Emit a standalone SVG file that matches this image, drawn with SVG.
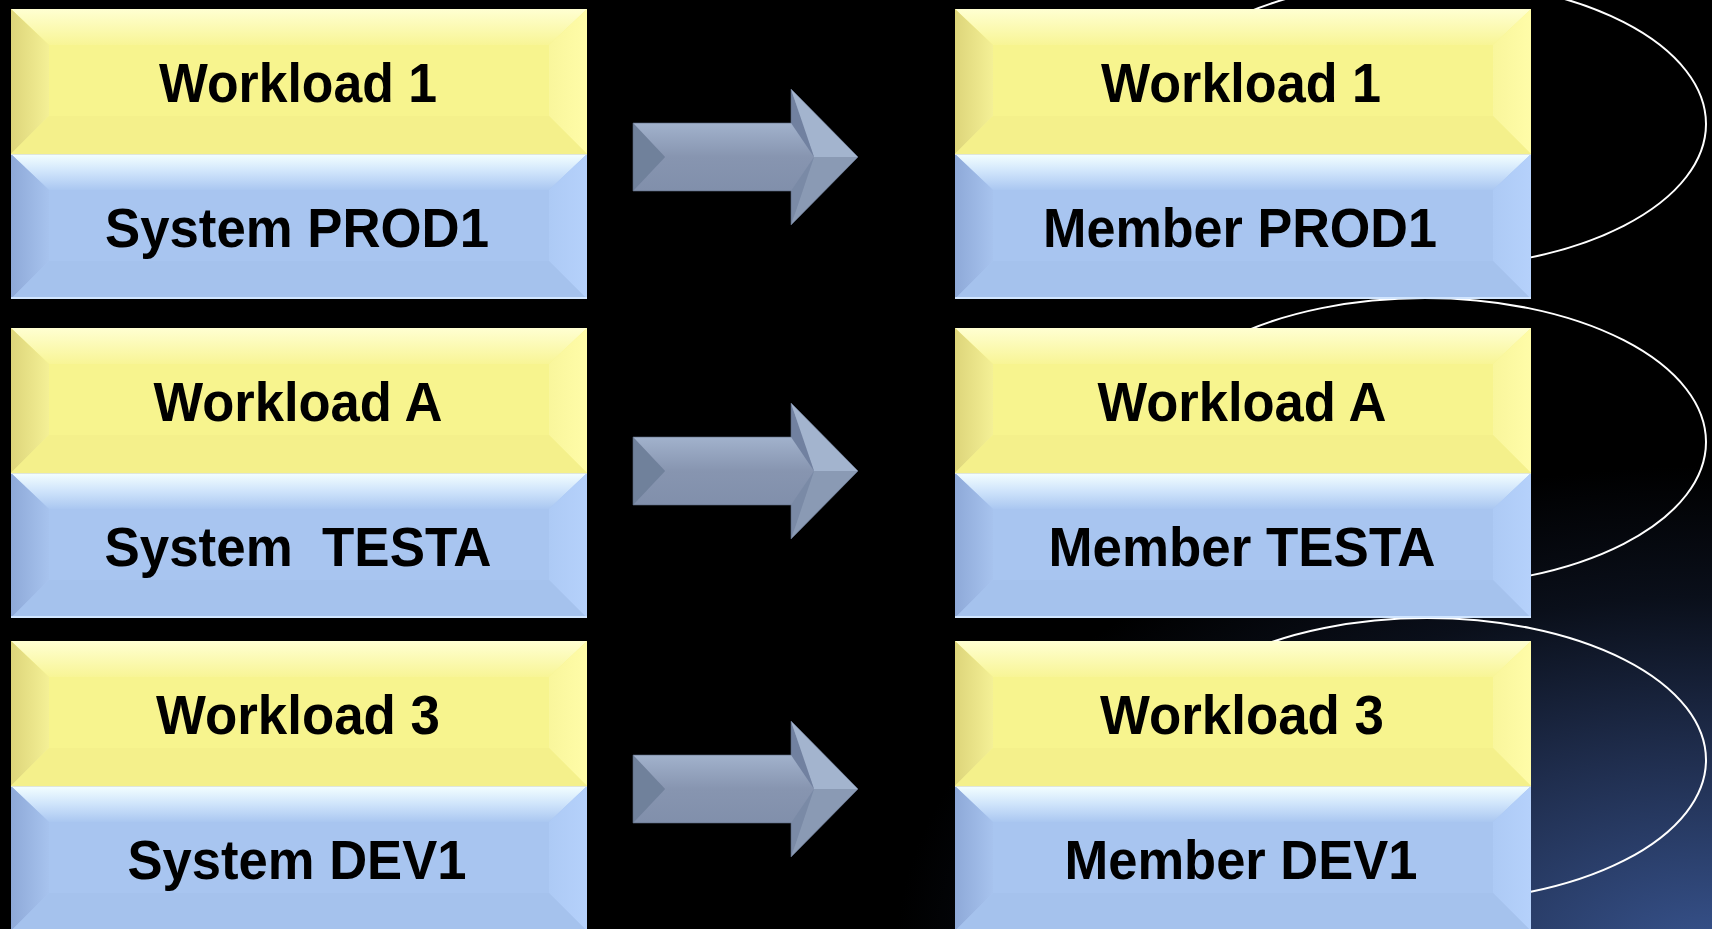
<svg xmlns="http://www.w3.org/2000/svg" xmlns:xlink="http://www.w3.org/1999/xlink" width="1712" height="929" viewBox="0 0 1712 929">
<style>
.lbl{font-family:"Liberation Sans",Arial,Helvetica,sans-serif;font-weight:bold;font-size:56px;fill:#000;text-anchor:middle;white-space:pre}
.ring{fill:none;stroke:#ffffff;stroke-width:2}
</style>
<defs>
<radialGradient id="bg" gradientUnits="userSpaceOnUse" cx="0" cy="0" r="1" gradientTransform="translate(1712 960) scale(860 520)">
<stop offset="0" stop-color="#38548f"/>
<stop offset="0.4" stop-color="#1f2d4d"/>
<stop offset="0.7" stop-color="#0a0f1a"/>
<stop offset="0.95" stop-color="#000"/>
</radialGradient>
<linearGradient id="yTop" x1="0" y1="0" x2="0" y2="1"><stop offset="0" stop-color="#ffffd2"/><stop offset="1" stop-color="#f8f596"/></linearGradient>
<linearGradient id="yLeft" x1="0" y1="0" x2="1" y2="0"><stop offset="0" stop-color="#ddd57a"/><stop offset="1" stop-color="#f4f096"/></linearGradient>
<linearGradient id="yRight" x1="0" y1="0" x2="1" y2="0"><stop offset="0" stop-color="#f9f69c"/><stop offset="1" stop-color="#fffca8"/></linearGradient>
<linearGradient id="bTop" x1="0" y1="0" x2="0" y2="1"><stop offset="0" stop-color="#f4ffff"/><stop offset="0.5" stop-color="#cfe4fb"/><stop offset="1" stop-color="#aac7f1"/></linearGradient>
<linearGradient id="bLeft" x1="0" y1="0" x2="1" y2="0"><stop offset="0" stop-color="#8ea9d8"/><stop offset="1" stop-color="#a7c3ee"/></linearGradient>
<linearGradient id="bRight" x1="0" y1="0" x2="1" y2="0"><stop offset="0" stop-color="#adcaf5"/><stop offset="1" stop-color="#b5d1fb"/></linearGradient>
<linearGradient id="aShaft" x1="0" y1="0" x2="0" y2="1">
<stop offset="0" stop-color="#cddcf4"/><stop offset="0.18" stop-color="#a9bad4"/><stop offset="0.5" stop-color="#8795b0"/><stop offset="0.9" stop-color="#7d8ca8"/><stop offset="1" stop-color="#9aa9c2"/>
</linearGradient>
<symbol id="yh" viewBox="0 0 576 145" width="576" height="145" overflow="visible">
<rect x="0" y="0" width="576" height="145" fill="#f7f48e"/>
<polygon points="0,0 576,0 538,36 38,36" fill="url(#yTop)"/>
<polygon points="0,0 38,36 38,107 0,145" fill="url(#yLeft)"/>
<polygon points="576,0 576,145 538,107 538,36" fill="url(#yRight)"/>
<polygon points="0,145 38,107 538,107 576,145" fill="#f4f08b"/>
</symbol>
<symbol id="bh" viewBox="0 0 576 145" width="576" height="145" overflow="visible">
<rect x="0" y="0" width="576" height="145" fill="#a8c5f0"/>
<polygon points="0,0 576,0 538,36 38,36" fill="url(#bTop)"/>
<polygon points="0,0 38,36 38,107 0,145" fill="url(#bLeft)"/>
<polygon points="576,0 576,145 538,107 538,36" fill="url(#bRight)"/>
<polygon points="0,145 38,107 538,107 576,145" fill="#a5c2ed"/>
<line x1="0" y1="144" x2="576" y2="144" stroke="#d2e6ff" stroke-width="2"/>
<line x1="0" y1="0.5" x2="576" y2="0.5" stroke="#dfe6dc" stroke-width="1"/>
</symbol>
<symbol id="arrow" viewBox="0 0 226 136" width="226" height="136" overflow="visible">
<polygon points="0,34 158,34 158,0 225,68 158,136 158,102 0,102" fill="url(#aShaft)"/>
<polygon points="0,34 32,68 0,102" fill="#74849f"/>
<polygon points="0,102 32,68 0,34" fill="#6e7e9a" opacity="0.6"/>
<polygon points="158,0 181,68 225,68" fill="#a3b4ce"/>
<polygon points="158,0 181,68 158,34" fill="#7181a0"/>
<polygon points="181,68 225,68 158,136" fill="#8a9ab4"/>
<polygon points="158,136 181,68 158,102" fill="#7a8aa6"/>
<polygon points="0,34 158,34 158,0 225,68 158,136 158,102 0,102" fill="none" stroke="#5a6880" stroke-width="1" opacity="0.6"/>
</symbol>
</defs>
<rect x="0" y="0" width="1712" height="929" fill="#000"/>
<rect x="0" y="0" width="1712" height="929" fill="url(#bg)"/>

<g id="connectors">
<ellipse class="ring" cx="1425" cy="124" rx="281" ry="144"/>
<ellipse class="ring" cx="1425" cy="442" rx="281" ry="144"/>
<ellipse class="ring" cx="1427" cy="760" rx="279" ry="142"/>
<use xlink:href="#arrow" x="633" y="89"/>
<use xlink:href="#arrow" x="633" y="403"/>
<use xlink:href="#arrow" x="633" y="721"/>
</g>

<g id="src1">
<use xlink:href="#yh" x="11" y="9"/>
<use xlink:href="#bh" x="11" y="154"/>
<text class="lbl" x="298" y="102" textLength="278" lengthAdjust="spacingAndGlyphs">Workload 1</text>
<text class="lbl" x="297" y="247" textLength="384" lengthAdjust="spacingAndGlyphs">System PROD1</text>
</g>
<g id="src2">
<use xlink:href="#yh" x="11" y="328"/>
<use xlink:href="#bh" x="11" y="473"/>
<text class="lbl" x="298" y="421" textLength="289" lengthAdjust="spacingAndGlyphs">Workload A</text>
<text class="lbl" x="298" y="566" textLength="387" lengthAdjust="spacingAndGlyphs">System  TESTA</text>
</g>
<g id="src3">
<use xlink:href="#yh" x="11" y="641"/>
<use xlink:href="#bh" x="11" y="786"/>
<text class="lbl" x="298" y="734" textLength="284" lengthAdjust="spacingAndGlyphs">Workload 3</text>
<text class="lbl" x="297" y="879" textLength="339" lengthAdjust="spacingAndGlyphs">System DEV1</text>
</g>

<g id="dst1">
<use xlink:href="#yh" x="955" y="9"/>
<use xlink:href="#bh" x="955" y="154"/>
<text class="lbl" x="1241" y="102" textLength="280" lengthAdjust="spacingAndGlyphs">Workload 1</text>
<text class="lbl" x="1240" y="247" textLength="394" lengthAdjust="spacingAndGlyphs">Member PROD1</text>
</g>
<g id="dst2">
<use xlink:href="#yh" x="955" y="328"/>
<use xlink:href="#bh" x="955" y="473"/>
<text class="lbl" x="1242" y="421" textLength="289" lengthAdjust="spacingAndGlyphs">Workload A</text>
<text class="lbl" x="1242" y="566" textLength="387" lengthAdjust="spacingAndGlyphs">Member TESTA</text>
</g>
<g id="dst3">
<use xlink:href="#yh" x="955" y="641"/>
<use xlink:href="#bh" x="955" y="786"/>
<text class="lbl" x="1242" y="734" textLength="284" lengthAdjust="spacingAndGlyphs">Workload 3</text>
<text class="lbl" x="1241" y="879" textLength="353" lengthAdjust="spacingAndGlyphs">Member DEV1</text>
</g>
</svg>
